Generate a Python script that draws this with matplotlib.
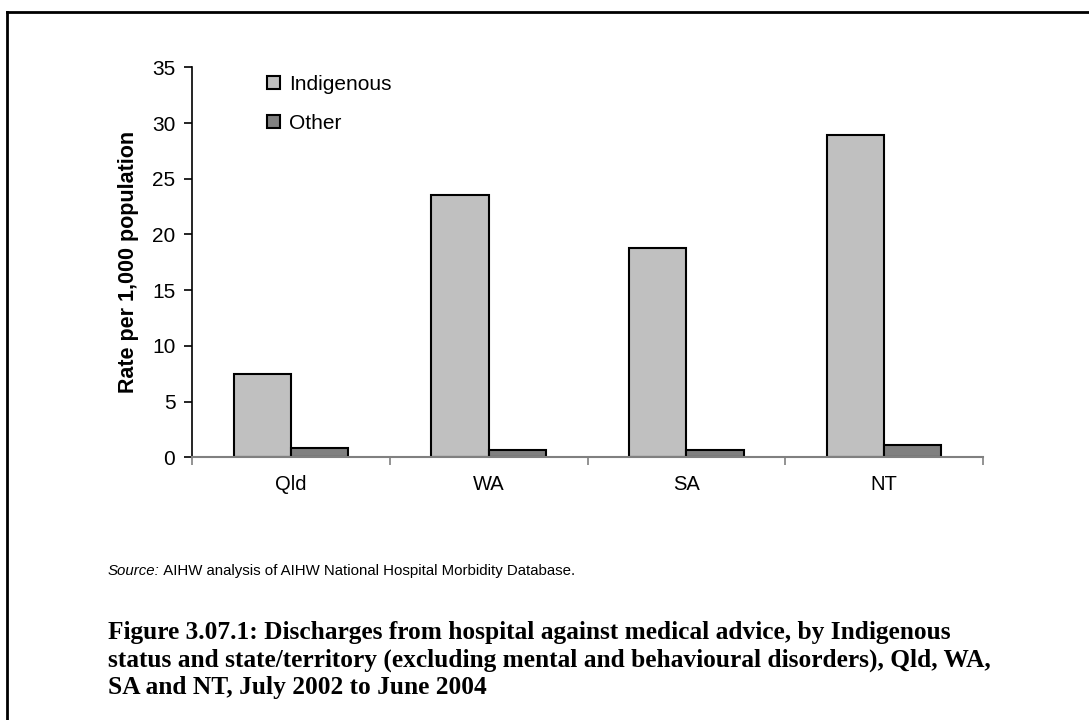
import matplotlib
matplotlib.use('Agg')
import matplotlib.pyplot as plt
from matplotlib.patches import Patch
from matplotlib.lines import Line2D
import numpy as np

states = ['Qld', 'WA', 'SA', 'NT']
indigenous = [7.5, 23.5, 18.8, 28.9]
other = [0.85, 0.65, 0.65, 1.1]
yticks = [0, 5, 10, 15, 20, 25, 30, 35]

plt.rcParams['font.family'] = ['Liberation Sans', 'DejaVu Sans']

fig = plt.figure(figsize=(10.89, 7.2), dpi=100)
ax = fig.add_axes([192 / 1089, 1 - 457.3 / 720, 791 / 1089, 390 / 720])

x = np.arange(len(states))
w = 0.29
ax.bar(x - w / 2, indigenous, w, color='#c0c0c0', edgecolor='black', linewidth=1.5)
ax.bar(x + w / 2, other, w, color='#808080', edgecolor='black', linewidth=1.5)

ax.set_xlim(-0.5, len(states) - 0.5)
ax.set_ylim(0, 35)
ax.set_yticks(yticks)
ax.set_xticks(np.arange(len(states) + 1) - 0.5)
ax.set_xticklabels([])
ax.set_xticks(x, minor=True)
ax.set_xticklabels(states, minor=True, fontsize=14.5)
ax.tick_params(axis='x', which='minor', length=0, pad=13)
ax.tick_params(axis='x', which='major', length=6, color='#808080', width=1.2)
ax.tick_params(axis='y', length=6, width=1.2, labelsize=15, pad=6)

for s in ['top', 'right']:
    ax.spines[s].set_visible(False)
ax.spines['left'].set_linewidth(1.2)
ax.spines['bottom'].set_linewidth(1.5)
ax.spines['bottom'].set_color('#808080')

ax.set_ylabel('Rate per 1,000 population', fontsize=15.5, fontweight='bold', labelpad=9)

handles = [Patch(facecolor='#c0c0c0', edgecolor='black', linewidth=1.5),
           Patch(facecolor='#808080', edgecolor='black', linewidth=1.5)]
ax.legend(handles, ['Indigenous', 'Other'], loc='upper left',
          bbox_to_anchor=(0.095, 0.98), frameon=False, fontsize=15,
          borderpad=0, borderaxespad=0,
          handlelength=0.6, handleheight=0.6, handletextpad=0.45,
          labelspacing=0.95)

# source note
t = fig.text(108 / 1089, 1 - 575 / 720, 'Source:', fontsize=10.8, style='italic')
ax.annotate(' AIHW analysis of AIHW National Hospital Morbidity Database.',
            xy=(1, 0), xycoords=t, fontsize=10.8, va='bottom')

caption = ('Figure 3.07.1: Discharges from hospital against medical advice, by Indigenous\n'
           'status and state/territory (excluding mental and behavioural disorders), Qld, WA,\n'
           'SA and NT, July 2002 to June 2004')
fig.text(108 / 1089, 1 - 621 / 720, caption, fontsize=18.3, fontweight='bold',
         family=['Liberation Serif', 'DejaVu Serif'], va='top', linespacing=1.25)

# page frame (top and left)
fig.add_artist(Line2D([7 / 1089, 7 / 1089], [0, 1 - 12 / 720], color='black', lw=2,
                      transform=fig.transFigure))
fig.add_artist(Line2D([7 / 1089, 1], [1 - 12 / 720, 1 - 12 / 720], color='black', lw=2,
                      transform=fig.transFigure))

fig.savefig('out.png', dpi=100)
